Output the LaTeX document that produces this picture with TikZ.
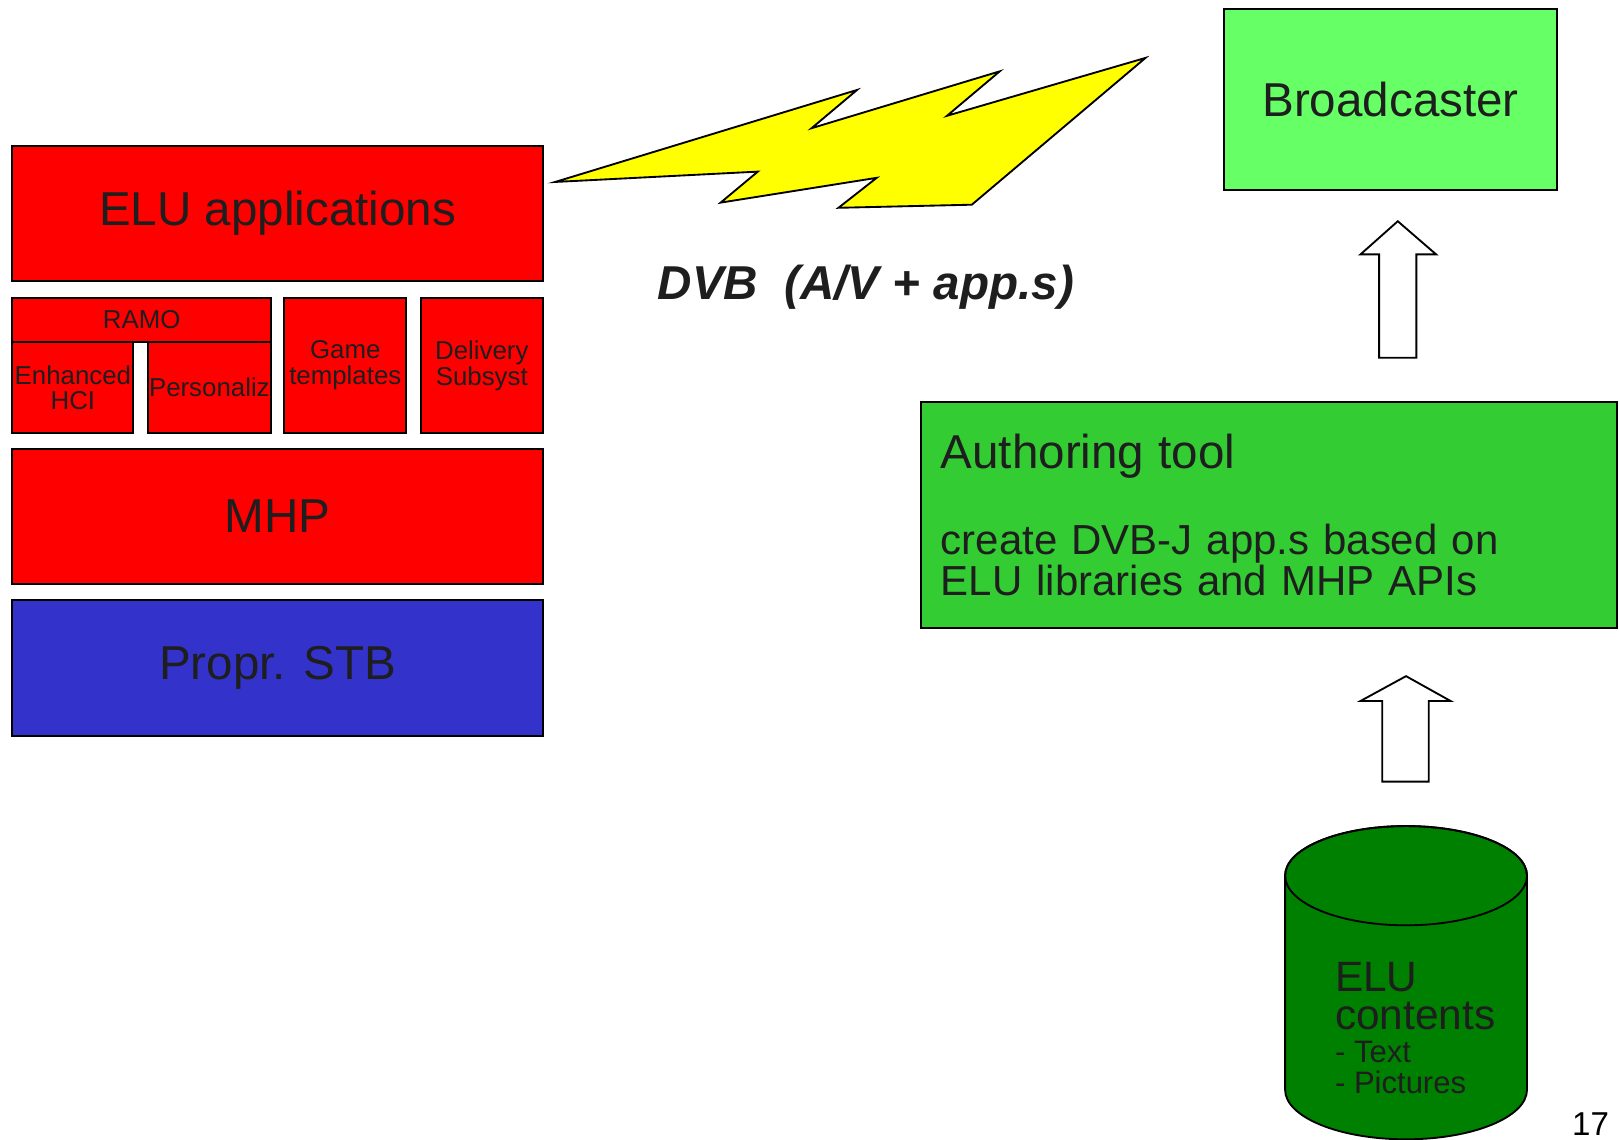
\documentclass[tikz,border=0pt]{standalone}
\usepackage{fontspec}
\setsansfont{Liberation Sans}
\usetikzlibrary{positioning}
\tikzset{>=latex}
\definecolor{elured}{HTML}{FF0000}
\definecolor{stbblue}{HTML}{3333CC}
\definecolor{bcgreen}{HTML}{66FF66}
\definecolor{atgreen}{HTML}{33CC33}
\definecolor{dbgreen}{HTML}{008000}
\definecolor{boltyellow}{HTML}{FFFF00}
\definecolor{ink}{HTML}{1E1E1E}
\def\bigfont{\sffamily\fontsize{23}{23}\selectfont}
\def\smallfont{\sffamily\fontsize{12.5}{12.5}\selectfont}

\begin{document}
\begin{tikzpicture}[x=0.5pt,y=-0.5pt,
    layer/.style={draw, line width=0.9pt, inner sep=0pt, text=ink, font=\bigfont},
    module/.style={layer, fill=elured, align=center, font=\smallfont},
    blockarrow/.style={draw, fill=white, line width=0.9pt, line join=miter}]
\useasboundingbox (0,0) rectangle (1566,1102);

    %the ELU stack on the set-top box
    \node[layer, fill=elured, minimum width=256.5pt, minimum height=65.5pt] (eluapp) at (268.5,206.5) {ELU applications};
    \node[module, minimum width=125pt, minimum height=21.5pt] (ramo) at (137,309.5) {RAMO};
    \node[module, minimum width=58.5pt, minimum height=44pt] (hci) at (70.5,375) {Enhanced\\HCI};
    \node[module, minimum width=59.5pt, minimum height=44pt] (perso) at (202.5,375) {Personaliz};
    \node[module, minimum width=59pt, minimum height=65.5pt] (game) at (334,353.5) {Game\\templates};
    \node[module, minimum width=59pt, minimum height=65.5pt] (deliv) at (466,353.5) {Delivery\\Subsyst};
    \node[layer, fill=elured, minimum width=256.5pt, minimum height=65.5pt] (mhp) at (268.5,499.5) {MHP};
    \node[layer, fill=stbblue, minimum width=256.5pt, minimum height=66pt] (stb) at (268.5,646) {Propr. STB};

    %lightning bolt
    \draw[fill=boltyellow, line width=0.9pt, line join=miter]
        (537,176) -- (829,87) -- (785,124) -- (967,69) -- (916,112) -- (1108,56)
        -- (940,198) -- (811,201) -- (848,172) -- (697,196) -- (733,166) -- cycle;
    \node[anchor=base, text=ink, font=\sffamily\bfseries\itshape\fontsize{23}{23}\selectfont] (dvb) at (837.5,290) {DVB\ \ (A/V + app.s)};

    %broadcaster side
    \node[layer, fill=bcgreen, minimum width=161pt, minimum height=87.5pt] (bcast) at (1345,96.5) {Broadcaster};
    \node[layer, fill=atgreen, minimum width=336.5pt, minimum height=109.5pt, inner xsep=9.5pt,
          text width=317.5pt, align=left, font=\sffamily\fontsize{20.3}{20}\selectfont] (author) at (1227.5,498)
        {{\fontsize{23}{20}\selectfont Authoring tool}\\[21.5pt]
         create DVB-J app.s based on\\
         ELU libraries and MHP APIs};

    %hollow arrows
    \draw[blockarrow] (1334,346) -- (1334,246) -- (1316,246) -- (1352,214)
        -- (1389,246) -- (1370,246) -- (1370,346) -- cycle;
    \draw[blockarrow] (1337,756) -- (1337,678) -- (1316,678) -- (1360,654)
        -- (1403,678) -- (1382,678) -- (1382,756) -- cycle;

    %content database
    \coordinate (cylL) at (1243,847);
    \coordinate (cylR) at (1477,847);
    \draw[fill=dbgreen, line width=0.9pt]
        (cylL) -- (1243,1054) arc[start angle=180, end angle=360, x radius=58.5pt, y radius=24pt]
        -- (cylR) arc[start angle=0, end angle=180, x radius=58.5pt, y radius=24pt] -- cycle;
    \draw[line width=0.9pt] (1360,847) ellipse[x radius=58.5pt, y radius=24pt];
    \node[anchor=north west, inner sep=0pt, align=left, text=ink, font=\sffamily\fontsize{20.5}{18.5}\selectfont] (dbtitle) at (1291,930) {ELU\\contents};
    \node[anchor=north west, inner sep=0pt, align=left, text=ink, font=\sffamily\fontsize{15}{15}\selectfont] (dbitems) at (1291,1007) {- Text\\- Pictures};

    %slide number
    \node[anchor=base, inner sep=0pt, font=\sffamily\fontsize{16}{16}\selectfont] (pageno) at (1538.5,1098) {17};
\end{tikzpicture}
\end{document}
